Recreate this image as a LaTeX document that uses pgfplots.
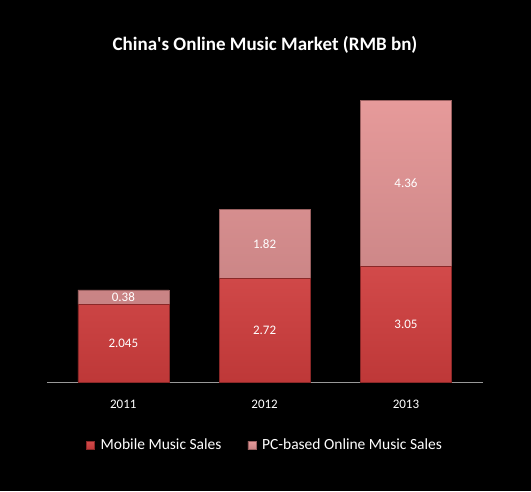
\documentclass[border=0pt]{standalone}
\usepackage{fontspec}
\setmainfont{Carlito}
\usepackage{pgfplots}
\pgfplotsset{compat=1.18}

\definecolor{mobiletop}{HTML}{D24A4A}
\definecolor{mobilebot}{HTML}{BE3838}
\definecolor{mobileedge}{HTML}{8A2828}
\definecolor{pctop}{HTML}{E69A9A}
\definecolor{pcbot}{HTML}{C88384}
\definecolor{pcedge}{HTML}{9A6060}

\pgfplotstableread{
x y label
0 1.0225 2.045
0 2.235 0.38
1 1.36 2.72
1 3.63 1.82
2 1.525 3.05
2 5.23 4.36
}\labels

\begin{document}
\begin{tikzpicture}
\fill[black] (0,0) rectangle (531pt,491pt);
\node[text=white, font=\bfseries\fontsize{19}{23}\selectfont] at (265pt,446pt)
  {China\textquotesingle s Online Music Market (RMB bn)};
\begin{axis}[
    at={(47pt,109pt)}, anchor=south west,
    scale only axis,
    width=436pt, height=304pt,
    ybar stacked,
    bar width=91pt,
    xmin=-0.54, xmax=2.545,
    ymin=0, ymax=8,
    xtick={0,1,2},
    xticklabels={2011,2012,2013},
    axis x line*=bottom,
    axis y line=none,
    x axis line style={-, draw=gray!80, line width=0.8pt},
    xtick style={draw=none},
    x tick label style={text=white, font=\fontsize{13}{15}\selectfont, yshift=-15pt},
    legend style={at={(0.5,-0.208)}, anchor=center, draw=none, fill=black,
        text=white, font=\fontsize{15.5}{18}\selectfont,
        legend columns=2, /tikz/every even column/.append style={column sep=24pt}},
    legend image code/.code={\draw[#1] (0pt,-4pt) rectangle (8pt,4pt); \path (12pt,0pt);},
]
\addplot[top color=mobiletop, bottom color=mobilebot, draw=mobileedge, line width=0.6pt]
  coordinates {(0,2.045) (1,2.72) (2,3.05)};
\addplot[top color=pctop, bottom color=pcbot, draw=pcedge, line width=0.6pt]
  coordinates {(0,0.38) (1,1.82) (2,4.36)};
\legend{Mobile Music Sales, PC-based Online Music Sales}
\end{axis}
\begin{axis}[
    at={(47pt,109pt)}, anchor=south west,
    scale only axis,
    width=436pt, height=304pt,
    xmin=-0.54, xmax=2.545,
    ymin=0, ymax=8,
    hide axis,
]
\addplot[draw=none, mark=none, nodes near coords, point meta=explicit symbolic,
    every node near coord/.style={anchor=center, text=white, font=\fontsize{13}{15}\selectfont}]
  table[x=x, y=y, meta=label] {\labels};
\end{axis}
\end{tikzpicture}
\end{document}
